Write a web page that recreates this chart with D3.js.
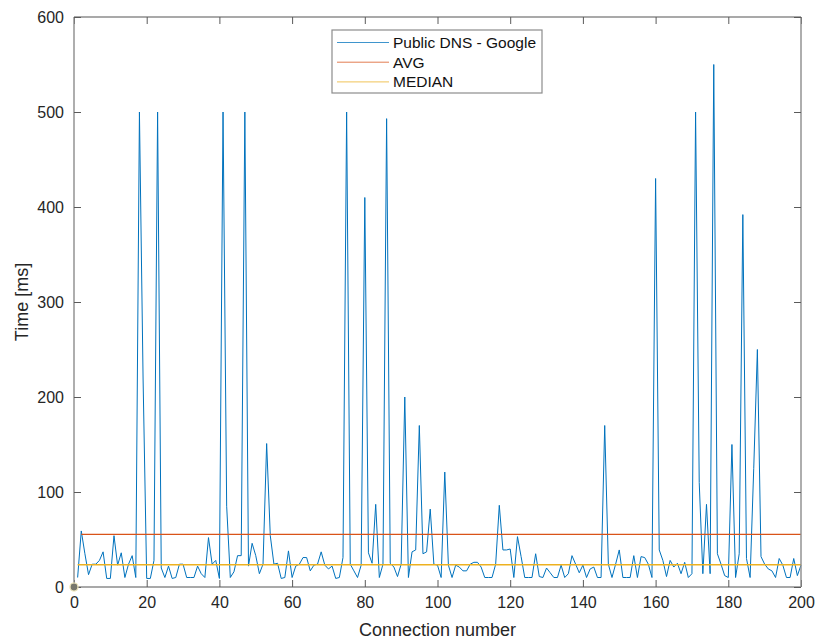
<!DOCTYPE html>
<html>
<head>
<meta charset="utf-8">
<script src="https://cdn.jsdelivr.net/npm/d3@7/dist/d3.min.js"></script>
<style>
  html, body { margin: 0; padding: 0; background: #fff; }
  svg { display: block; font-family: "Liberation Sans", Arial, Helvetica, sans-serif; }
</style>
</head>
<body>
<svg id="chart" width="817" height="639"></svg>
<script>
// Response time of each DNS lookup, connections 1..200 (ms)
const connections = d3.range(1, 201);
const timesMs = [
  10, 59, 35, 13, 24, 24, 28, 37, 9, 9,
  54, 23, 36, 10, 24, 33, 10, 500, 220, 9,
  9, 28, 500, 20, 10, 22, 9, 10, 24, 24,
  10, 10, 10, 22, 14, 10, 52, 24, 28, 9,
  500, 85, 10, 16, 33, 33, 500, 22, 46, 33,
  14, 24, 151, 54, 24, 25, 9, 10, 38, 10,
  22, 24, 31, 31, 17, 23, 24, 37, 23, 19,
  22, 9, 10, 31, 500, 24, 17, 10, 23, 410,
  36, 25, 87, 10, 24, 493, 25, 21, 11, 24,
  200, 10, 37, 39, 170, 35, 37, 82, 24, 23,
  10, 121, 23, 10, 23, 21, 17, 17, 24, 26,
  26, 21, 10, 10, 10, 24, 86, 39, 39, 40,
  10, 53, 32, 10, 10, 10, 35, 11, 10, 20,
  15, 10, 10, 23, 10, 14, 33, 24, 15, 23,
  10, 19, 21, 10, 10, 170, 24, 10, 24, 39,
  10, 10, 10, 33, 10, 32, 31, 24, 10, 430,
  39, 28, 11, 28, 21, 25, 14, 26, 10, 14,
  500, 110, 14, 87, 14, 550, 35, 24, 12, 10,
  150, 10, 35, 392, 30, 10, 125, 250, 32, 24,
  19, 17, 10, 30, 23, 10, 10, 30, 12, 23
];
// Summary levels drawn as horizontal references
const avgMs = 55.5;
const medianMs = 23.5;
const avgFrom = 2, medianFrom = 1, refTo = 200;

const xTicks = [0, 20, 40, 60, 80, 100, 120, 140, 160, 180, 200];
const yTicks = [0, 100, 200, 300, 400, 500, 600];
const legendLabels = ["Public DNS - Google", "AVG", "MEDIAN"];
const seriesColors = ["#0072BD", "#D95319", "#EDB120"];

const svg = d3.select("#chart");
const margin = { left: 74, right: 16, top: 17, bottom: 52 };
const W = 817, H = 639;
const x = d3.scaleLinear().domain([0, 200]).range([margin.left, W - margin.right]);
const y = d3.scaleLinear().domain([0, 600]).range([H - margin.bottom, margin.top]);

const axisColor = "#262626";
const frameColor = "#8c8c8c";
const tickLen = 7;

// plot background
svg.append("rect")
  .attr("x", x(0)).attr("y", y(600))
  .attr("width", x(200) - x(0)).attr("height", y(0) - y(600))
  .attr("fill", "#fff");

// series
const line = d3.line().x((d, i) => x(connections[i])).y(d => y(d));
svg.append("path")
  .datum(timesMs)
  .attr("d", line)
  .attr("fill", "none")
  .attr("stroke", seriesColors[0])
  .attr("stroke-width", 1)
  .attr("stroke-linejoin", "miter")
  .attr("stroke-miterlimit", 20);

// average and median references
svg.append("line")
  .attr("x1", x(avgFrom)).attr("x2", x(refTo))
  .attr("y1", y(avgMs)).attr("y2", y(avgMs))
  .attr("stroke", seriesColors[1]).attr("stroke-width", 1.2);
svg.append("line")
  .attr("x1", x(medianFrom)).attr("x2", x(refTo))
  .attr("y1", y(medianMs)).attr("y2", y(medianMs))
  .attr("stroke", seriesColors[2]).attr("stroke-width", 1.6);

// origin marker
svg.append("circle")
  .attr("cx", x(0)).attr("cy", y(0)).attr("r", 4)
  .attr("fill", "#77776c").attr("stroke", "#f4ecc4").attr("stroke-width", 1.2);

// axes (box with inward ticks on all sides)
const bottomAxis = d3.axisBottom(x).tickValues(xTicks).tickSize(-tickLen).tickPadding(10).tickFormat(d3.format("d"));
const topAxis = d3.axisTop(x).tickValues(xTicks).tickSize(-tickLen).tickFormat("");
const leftAxis = d3.axisLeft(y).tickValues(yTicks).tickSize(-tickLen).tickPadding(10).tickFormat(d3.format("d"));
const rightAxis = d3.axisRight(y).tickValues(yTicks).tickSize(-tickLen).tickFormat("");

function styleAxis(g) {
  g.select(".domain").attr("stroke", frameColor).attr("stroke-width", 1.4);
  g.selectAll(".tick line").attr("stroke", "#5a5a5a").attr("stroke-width", 1);
  g.selectAll(".tick text").attr("fill", axisColor).attr("font-size", 16)
    .attr("font-family", "'Liberation Sans', Arial, sans-serif");
}

svg.append("g").attr("transform", `translate(0,${y(0)})`).call(bottomAxis).call(styleAxis)
  .call(g => g.select(".domain").attr("d", `M${x(0)},0H${x(200)}`));
svg.append("g").attr("transform", `translate(0,${y(600)})`).call(topAxis).call(styleAxis)
  .call(g => g.select(".domain").attr("d", `M${x(0)},0H${x(200)}`));
svg.append("g").attr("transform", `translate(${x(0)},0)`).call(leftAxis).call(styleAxis)
  .call(g => g.select(".domain").attr("d", `M0,${y(0)}V${y(600)}`));
svg.append("g").attr("transform", `translate(${x(200)},0)`).call(rightAxis).call(styleAxis)
  .call(g => g.select(".domain").attr("d", `M0,${y(0)}V${y(600)}`));

// origin marker drawn over the frame corner
svg.append("circle")
  .attr("cx", x(0)).attr("cy", y(0)).attr("r", 4)
  .attr("fill", "#77776c").attr("stroke", "#f4ecc4").attr("stroke-width", 1.2);

// axis titles
svg.append("text")
  .attr("x", (x(0) + x(200)) / 2).attr("y", 636)
  .attr("text-anchor", "middle").attr("font-size", 18).attr("fill", axisColor)
  .text("Connection number");
svg.append("text")
  .attr("transform", `translate(28,${(y(0) + y(600)) / 2}) rotate(-90)`)
  .attr("text-anchor", "middle").attr("font-size", 18).attr("fill", axisColor)
  .text("Time [ms]");

// legend
const lg = svg.append("g").attr("transform", "translate(332,30)");
lg.append("rect").attr("width", 210).attr("height", 63)
  .attr("fill", "#fff").attr("stroke", frameColor).attr("stroke-width", 1.2);
legendLabels.forEach((label, i) => {
  const cy = 12.5 + i * 19.7;
  lg.append("line").attr("x1", 5).attr("x2", 57).attr("y1", cy).attr("y2", cy)
    .attr("stroke", seriesColors[i]).attr("stroke-width", 1).attr("opacity", 0.75);
  lg.append("text").attr("x", 61).attr("y", cy + 5.5)
    .attr("font-size", 15.5).attr("fill", "#111").text(label);
});
</script>
</body>
</html>
